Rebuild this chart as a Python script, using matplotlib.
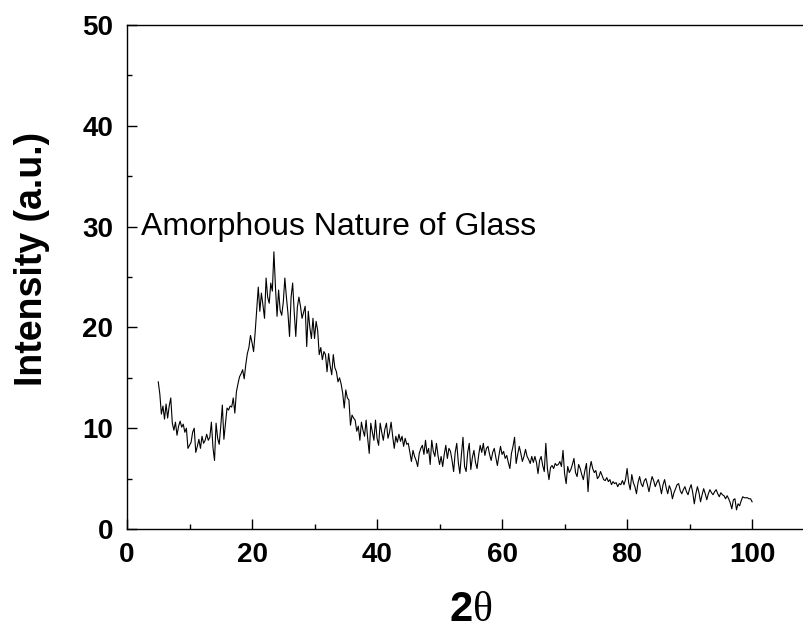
import numpy as np
import matplotlib
matplotlib.use("Agg")
import matplotlib.pyplot as plt
from matplotlib.ticker import MultipleLocator

plt.rcParams["font.family"] = ["Liberation Sans", "DejaVu Sans"]
plt.rcParams["mathtext.fontset"] = "custom"
plt.rcParams["mathtext.rm"] = "Liberation Serif"
plt.rcParams["mathtext.bf"] = "Liberation Sans:bold"

# intensity, 0.25 deg steps, one list per 5 degrees
i_05 = [14.6, 13.4, 11.4, 12.2, 10.9, 12.4, 11.0, 12.2, 13.0, 10.5,
        9.8, 10.6, 9.3, 10.2, 10.7, 10.1, 10.4, 9.6, 10.0, 8.0]
i_10 = [8.3, 8.6, 9.6, 10.0, 7.6, 8.2, 8.9, 8.0, 9.2, 8.5,
        8.8, 9.4, 8.8, 9.1, 10.6, 8.1, 6.8, 10.5, 9.0, 8.4]
i_15 = [10.2, 12.3, 8.9, 10.5, 12.0, 11.8, 12.2, 12.1, 13.0, 11.5,
        13.6, 14.4, 15.1, 15.4, 15.8, 14.9, 16.3, 17.4, 18.0, 19.2]
i_20 = [18.5, 17.6, 19.5, 21.8, 24.0, 21.6, 23.4, 22.2, 20.9, 24.9,
        23.0, 22.4, 24.4, 23.6, 27.5, 24.0, 21.1, 23.7, 21.7, 21.2]
i_25 = [22.5, 24.9, 23.0, 21.4, 19.1, 23.0, 24.4, 21.5, 19.1, 22.0,
        23.0, 22.1, 20.9, 21.5, 22.1, 18.1, 21.6, 20.0, 18.9, 20.9]
i_30 = [18.9, 20.6, 19.7, 17.3, 18.0, 16.8, 17.6, 17.3, 15.6, 17.4,
        16.2, 15.3, 17.3, 16.0, 15.6, 14.6, 15.0, 14.4, 13.5, 12.0]
i_35 = [13.8, 13.0, 12.8, 10.3, 11.3, 11.0, 10.8, 9.7, 10.2, 8.8,
        10.6, 9.8, 9.2, 10.8, 9.0, 7.5, 10.5, 9.6, 8.8, 10.8]
i_40 = [9.0, 8.3, 10.5, 9.6, 8.8, 9.9, 10.5, 9.0, 9.6, 10.6,
        9.2, 8.0, 9.2, 8.6, 9.4, 8.7, 9.2, 8.2, 9.0, 8.4]
i_45 = [8.5, 7.6, 6.7, 7.8, 7.2, 6.8, 6.2, 7.5, 8.0, 8.3,
        7.4, 8.8, 7.5, 8.0, 6.4, 8.8, 7.7, 7.2, 8.5, 7.3]
i_50 = [6.4, 7.2, 6.2, 7.4, 8.3, 7.0, 8.0, 7.7, 6.8, 5.7,
        7.6, 8.5, 6.6, 5.5, 7.4, 9.1, 6.2, 5.7, 7.6, 8.5]
i_55 = [5.9, 7.1, 7.8, 6.6, 6.0, 7.3, 8.3, 7.6, 8.5, 7.3,
        8.0, 8.2, 7.4, 6.8, 7.6, 8.0, 7.1, 6.3, 7.3, 8.2]
i_60 = [7.4, 7.7, 7.0, 7.3, 6.6, 6.0, 7.5, 8.2, 9.1, 6.5,
        7.4, 8.2, 7.5, 6.7, 7.2, 7.9, 7.2, 6.9, 6.5, 7.2]
i_65 = [6.6, 7.2, 6.6, 5.5, 6.8, 7.2, 6.3, 5.7, 8.5, 6.0,
        4.9, 6.1, 6.3, 6.0, 6.5, 6.3, 6.4, 6.7, 6.2, 7.8]
i_70 = [5.5, 4.5, 6.2, 5.6, 5.9, 6.4, 7.0, 5.6, 5.2, 6.4,
        6.0, 5.4, 4.9, 5.8, 6.5, 3.7, 5.9, 6.7, 6.0, 5.6]
i_75 = [5.8, 5.0, 5.2, 5.7, 5.3, 4.9, 4.8, 5.1, 4.7, 4.9,
        4.4, 4.7, 4.5, 4.6, 4.2, 4.5, 4.4, 4.8, 4.4, 4.9]
i_80 = [6.0, 4.6, 3.9, 5.4, 4.6, 4.2, 3.5, 4.6, 5.2, 4.5,
        4.2, 4.8, 5.0, 4.4, 3.7, 4.5, 5.2, 4.8, 4.2, 4.6]
i_85 = [4.9, 4.3, 3.5, 4.4, 4.9, 4.1, 3.5, 4.3, 3.9, 3.0,
        3.6, 4.0, 4.4, 4.5, 3.8, 3.5, 3.9, 4.2, 3.7, 3.4]
i_90 = [4.0, 4.4, 3.6, 2.5, 3.5, 4.2, 3.6, 2.7, 3.4, 4.0,
        3.5, 2.9, 3.5, 3.9, 3.6, 3.4, 3.7, 3.9, 3.5, 3.2]
i_95 = [3.6, 3.4, 3.3, 3.0, 3.3, 3.0, 2.6, 2.0, 2.9, 3.0,
        1.9, 2.5, 2.3, 2.8, 3.2, 3.1, 3.1, 3.1, 3.0, 3.0, 2.7]

intensity = np.array(i_05 + i_10 + i_15 + i_20 + i_25 + i_30 + i_35 + i_40
                     + i_45 + i_50 + i_55 + i_60 + i_65 + i_70 + i_75
                     + i_80 + i_85 + i_90 + i_95)
two_theta = 5.0 + 0.25 * np.arange(len(intensity))

x_ticks = [0, 20, 40, 60, 80, 100]
y_ticks = [0, 10, 20, 30, 40, 50]

fig = plt.figure(figsize=(8.04, 6.32), dpi=100)
ax = fig.add_axes([127 / 804, 103 / 632, 677 / 804, 504 / 632])

ax.plot(two_theta, intensity, color="black", linewidth=0.8)

ax.set_xlim(0, 108.3)
ax.set_ylim(0, 50)
ax.set_xticks(x_ticks)
ax.set_yticks(y_ticks)
ax.xaxis.set_minor_locator(MultipleLocator(10))
ax.yaxis.set_minor_locator(MultipleLocator(5))
ax.tick_params(which="both", direction="in", top=False, right=False, width=1.0)
ax.tick_params(which="major", length=7.2)
ax.tick_params(which="minor", length=3.6)
ax.tick_params(axis="x", pad=9)
ax.tick_params(axis="y", pad=10)
for lab in ax.get_xticklabels() + ax.get_yticklabels():
    lab.set_fontsize(20)
    lab.set_fontweight("bold")

ax.spines["right"].set_visible(False)
for s in ["left", "bottom", "top"]:
    ax.spines[s].set_linewidth(1.0)

ax.set_ylabel("Intensity (a.u.)", fontsize=27, fontweight="bold", va="center")
ax.yaxis.set_label_coords(-0.140, 0.535)
ax.set_xlabel(r"$\mathbf{2}\mathrm{\theta}$", fontsize=30, va="center")
ax.xaxis.set_label_coords(0.507, -0.161)

ax.text(2.2, 30, "Amorphous Nature of Glass", fontsize=23, va="center", ha="left")

fig.savefig("out.png", dpi=100)
